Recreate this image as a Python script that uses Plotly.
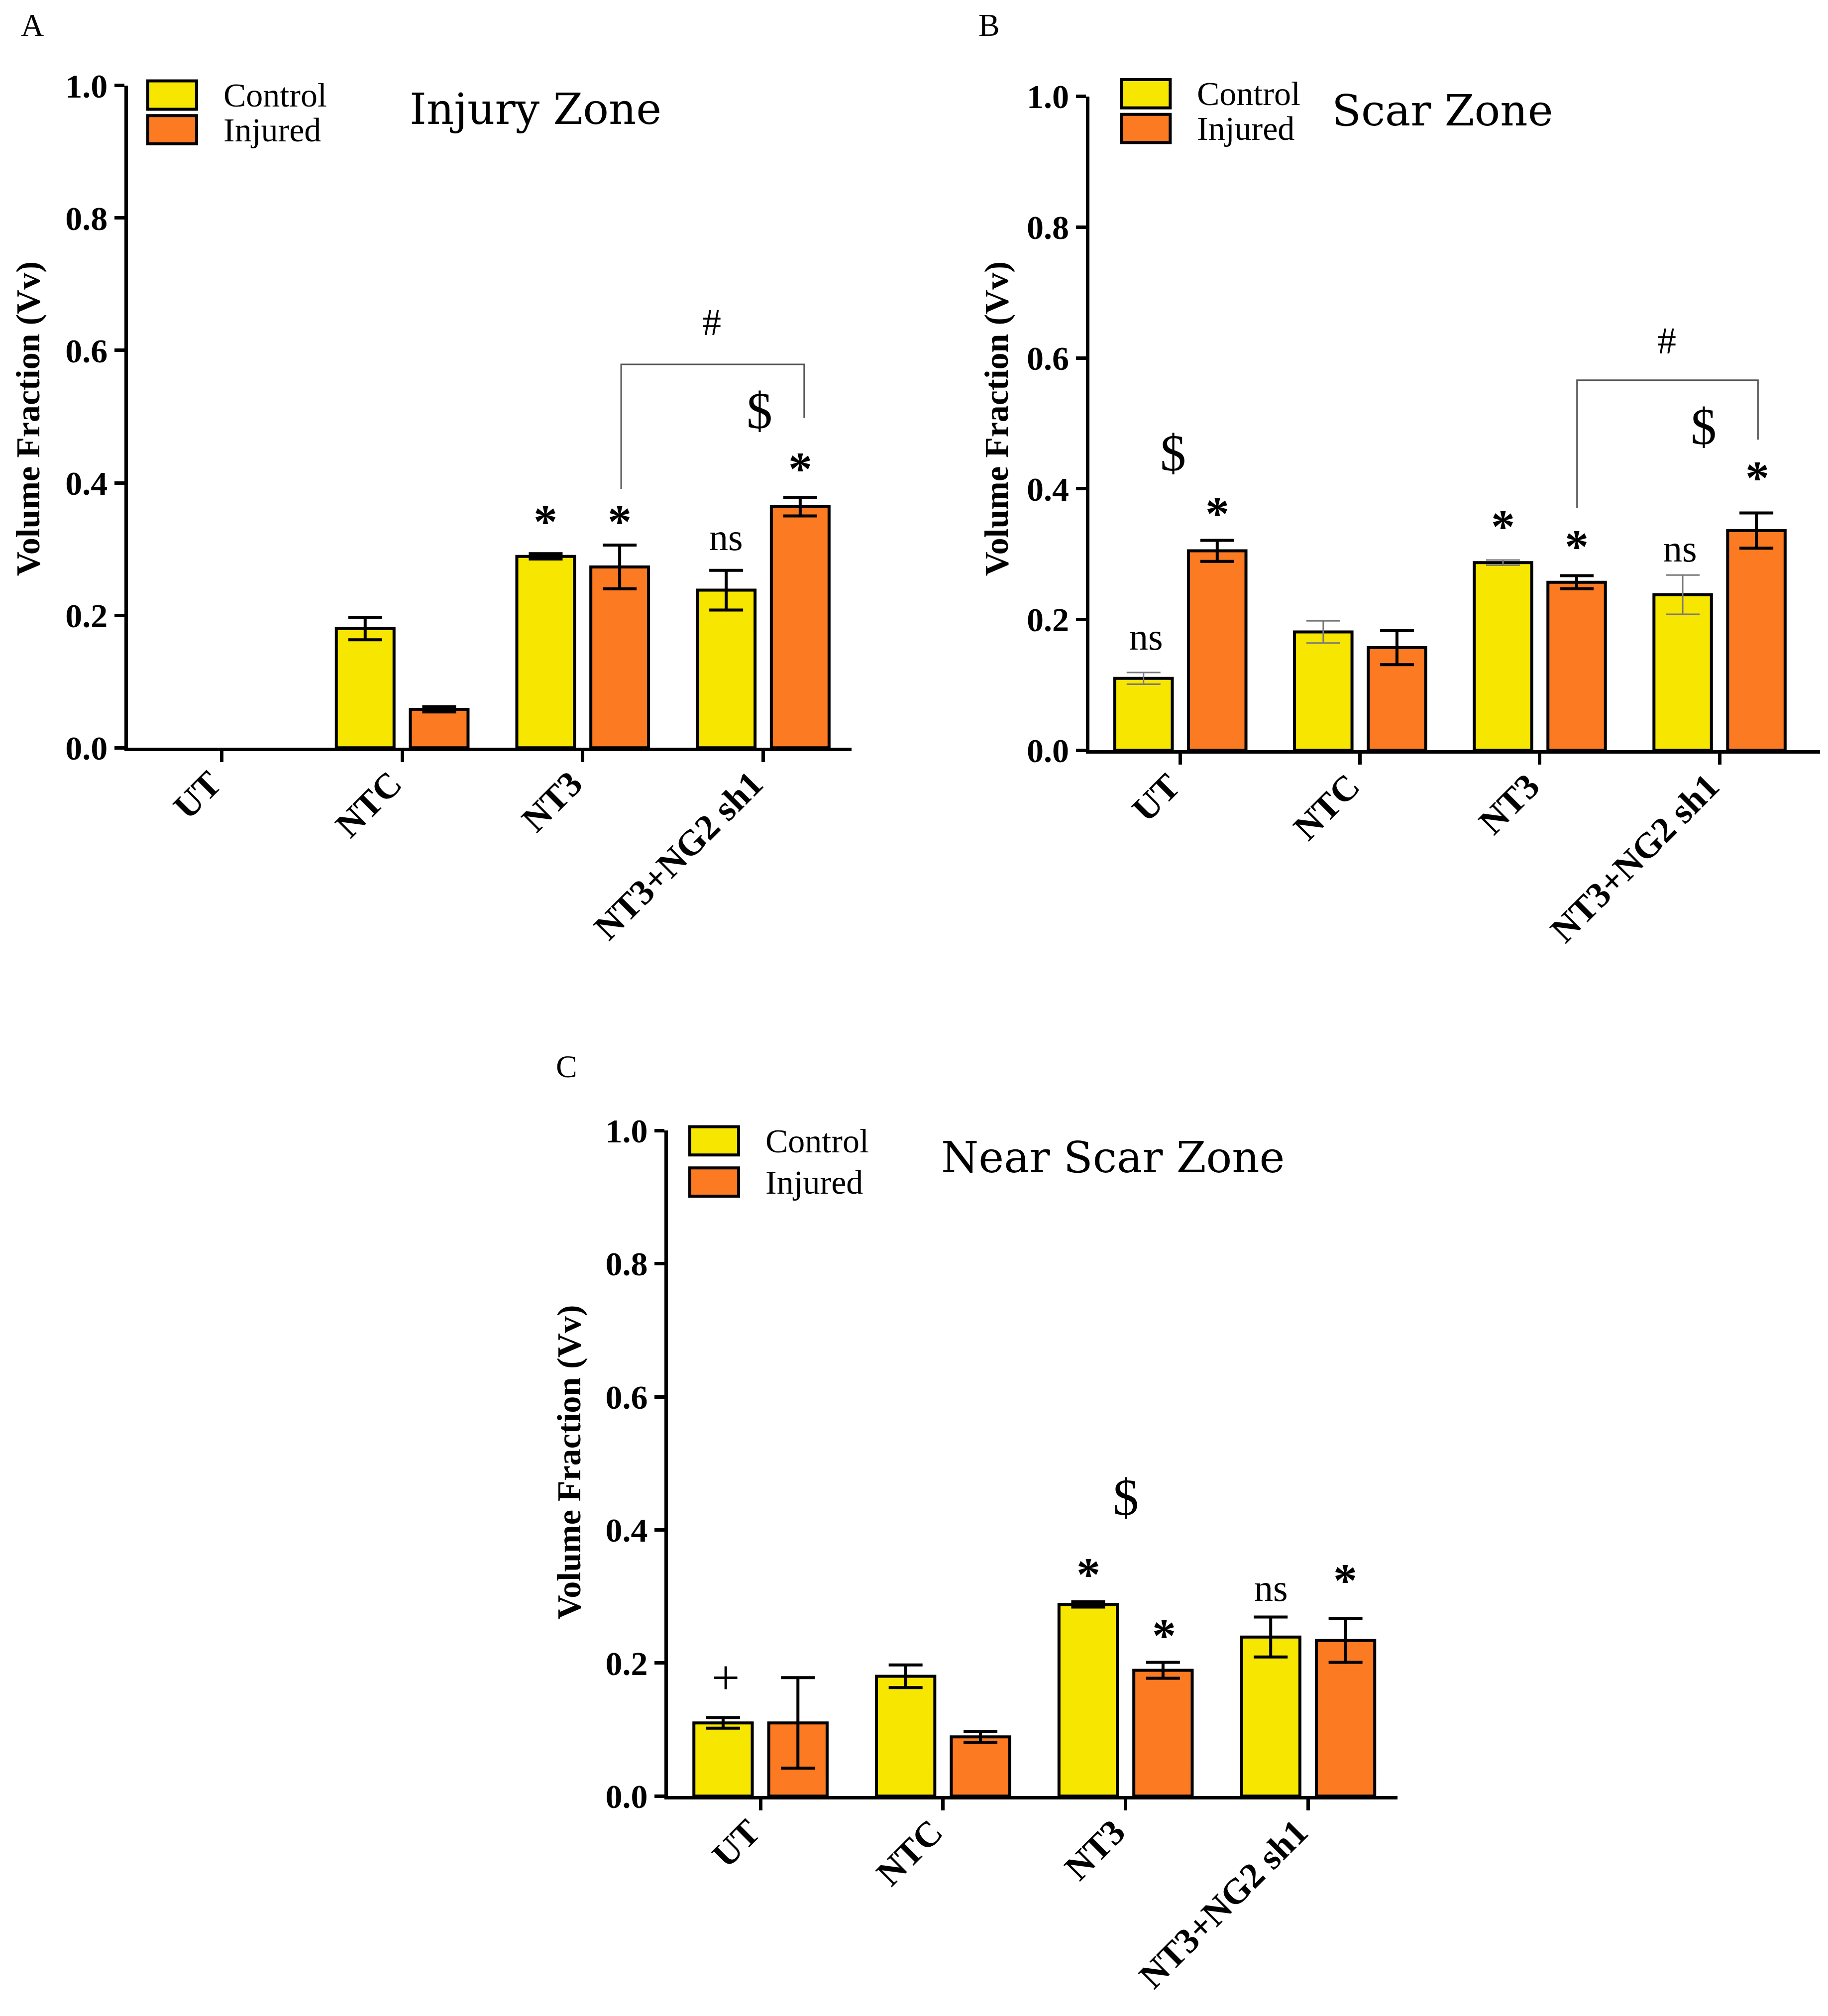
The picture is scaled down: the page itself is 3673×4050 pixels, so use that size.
import plotly.graph_objects as go

# ---- data ----
groups = ["UT", "NTC", "NT3", "NT3+NG2 sh1"]

# panel A - injury zone (no UT bars in the original)
a_control = [None, 0.180, 0.289, 0.238]
a_control_err = [None, 0.017, 0.004, 0.030]
a_injured = [None, 0.058, 0.273, 0.364]
a_injured_err = [None, 0.004, 0.033, 0.014]

# panel B - scar zone
b_control = [0.110, 0.181, 0.287, 0.238]
b_control_err = [0.009, 0.017, 0.004, 0.030]
b_injured = [0.305, 0.157, 0.257, 0.336]
b_injured_err = [0.016, 0.026, 0.010, 0.027]

# panel C - near scar zone
c_control = [0.110, 0.180, 0.288, 0.239]
c_control_err = [0.008, 0.017, 0.004, 0.030]
c_injured = [0.110, 0.089, 0.189, 0.234]
c_injured_err = [0.068, 0.008, 0.012, 0.033]

YELLOW = "#F7E700"
ORANGE = "#FC7A21"
FONT = "Liberation Serif"
TITLE_FONT = "DejaVu Serif"

S = 2.581  # reference preview px -> page px
W, H = 3673, 4050
PAGE_OFF = 8  # default body margin of the html page


def px(x):
    return (x * S - PAGE_OFF) / W


def py(y):
    return 1 - (y * S - PAGE_OFF) / H


fig = go.Figure()

panels = [
    # axis suffix, x domain, y domain, x range, data, thin control errors
    ("", (99.5, 663), (582, 66.6), [-0.52, 3.49],
     (a_control, a_control_err, a_injured, a_injured_err), False),
    ("2", (848, 1417), (584, 75), [-0.507, 3.56],
     (b_control, b_control_err, b_injured, b_injured_err), True),
    ("3", (520, 1088), (1398, 880), [-0.507, 3.49],
     (c_control, c_control_err, c_injured, c_injured_err), False),
]

xs = list(range(len(groups)))

for sfx, xd, yd, xr, vals, thin in panels:
    ctrl, ctrl_err, inj, inj_err = vals
    fig.add_trace(go.Bar(
        x=xs, y=ctrl, name="Control", offsetgroup="c", xaxis="x" + sfx, yaxis="y" + sfx,
        marker=dict(color=YELLOW, line=dict(color="black", width=6)),
        error_y=dict(type="data", array=ctrl_err, visible=True,
                     color="#7a7a7a" if thin else "black",
                     thickness=3 if thin else 6, width=34),
        showlegend=False))
    fig.add_trace(go.Bar(
        x=xs, y=inj, name="Injured", offsetgroup="i", xaxis="x" + sfx, yaxis="y" + sfx,
        marker=dict(color=ORANGE, line=dict(color="black", width=6)),
        error_y=dict(type="data", array=inj_err, visible=True,
                     color="black", thickness=6, width=34),
        showlegend=False))

    xa = dict(domain=[px(xd[0]), px(xd[1])], range=xr, anchor="y" + sfx,
              tickmode="array", tickvals=xs, ticktext=groups, tickangle=-45,
              showline=True, linecolor="black", linewidth=7,
              ticks="outside", ticklen=22, tickwidth=7, tickcolor="black",
              ticklabelstandoff=-28, ticklabelshift=-22,
              showgrid=False, zeroline=False, automargin=False,
              tickfont=dict(family=FONT, size=72, color="black", weight="bold"))
    ya = dict(domain=[py(yd[0]), py(yd[1])], range=[0, 1.0], anchor="x" + sfx,
              tickmode="array", tickvals=[0, 0.2, 0.4, 0.6, 0.8, 1.0],
              ticktext=["0.0", "0.2", "0.4", "0.6", "0.8", "1.0"],
              showline=True, linecolor="black", linewidth=7,
              ticks="outside", ticklen=20, tickwidth=7, tickcolor="black",
              showgrid=False, zeroline=False, automargin=False,
              tickfont=dict(family=FONT, size=68, color="black", weight="bold"))
    fig.update_layout({"xaxis" + sfx: xa, "yaxis" + sfx: ya})

shapes = []
annotations = []


def note(text, x, y, size, xref, yref, family=FONT, **kw):
    annotations.append(dict(text=text, x=x, y=y, xref=xref, yref=yref,
                            showarrow=False, font=dict(family=family, size=size, color="black"),
                            **kw))


# panel letters, axis titles, zone titles and hand-made legends
for letter, lx, ly in [("A", 25, 19.5), ("B", 770, 19.5), ("C", 441, 830)]:
    note(letter, px(lx), py(ly), 64, "paper", "paper", xanchor="center", yanchor="middle")

for tx, ty in [(22, 326), (776, 326), (443, 1138)]:
    note("<b>Volume Fraction (Vv)</b>", px(tx), py(ty), 68, "paper", "paper",
         textangle=-90, xanchor="center", yanchor="middle")

for title, tx, ty in [("Injury Zone", 318, 85), ("Scar Zone", 1036, 86), ("Near Scar Zone", 732, 901)]:
    note(title, px(tx), py(ty), 86, "paper", "paper", family=TITLE_FONT,
         xanchor="left", yanchor="middle")

for lx, ly1, ly2 in [(115, 63, 90), (873, 62, 89), (537, 877, 909)]:
    for y0, col, lab in [(ly1, YELLOW, "Control"), (ly2, ORANGE, "Injured")]:
        shapes.append(dict(type="rect", xref="paper", yref="paper",
                           x0=px(lx), x1=px(lx + 38), y0=py(y0), y1=py(y0 + 22),
                           fillcolor=col, line=dict(color="black", width=6)))
        note(lab, px(lx + 58), py(y0 + 11), 68, "paper", "paper",
             xanchor="left", yanchor="middle")

# significance marks: (axis suffix, x, y, text, size, bold)
marks = [
    ("", 1.795, 0.300, "*", 96, True),
    ("", 2.205, 0.300, "*", 96, True),
    ("", 2.795, 0.285, "ns", 76, False),
    ("", 3.205, 0.380, "*", 96, True),
    ("", 2.98, 0.465, "$", 104, False),
    ("", 2.716, 0.610, "#", 76, False),
    ("2", -0.19, 0.140, "ns", 76, False),
    ("2", 0.205, 0.320, "*", 96, True),
    ("2", -0.04, 0.410, "$", 104, False),
    ("2", 1.795, 0.300, "*", 96, True),
    ("2", 2.205, 0.270, "*", 96, True),
    ("2", 2.78, 0.275, "ns", 76, False),
    ("2", 3.21, 0.375, "*", 96, True),
    ("2", 2.91, 0.450, "$", 104, False),
    ("2", 2.707, 0.593, "#", 76, False),
    ("3", -0.19, 0.135, "+", 100, False),
    ("3", 1.796, 0.292, "*", 96, True),
    ("3", 2.211, 0.200, "*", 96, True),
    ("3", 2.0, 0.405, "$", 104, False),
    ("3", 2.796, 0.280, "ns", 76, False),
    ("3", 3.204, 0.283, "*", 96, True),
]
for sfx, x, y, text, size, bold in marks:
    note("<b>%s</b>" % text if bold else text, x, y, size, "x" + sfx, "y" + sfx,
         xanchor="center", yanchor="bottom")

# comparison brackets: (axis suffix, x left, x right, y top, y left end, y right end)
brackets = [
    ("", 2.213, 3.227, 0.579, 0.391, 0.498),
    ("2", 2.207, 3.214, 0.566, 0.371, 0.475),
]
for sfx, x0, x1, yt, yl, yr in brackets:
    path = "M %f,%f L %f,%f L %f,%f L %f,%f" % (x0, yl, x0, yt, x1, yt, x1, yr)
    shapes.append(dict(type="path", path=path, xref="x" + sfx, yref="y" + sfx,
                       line=dict(color="#555555", width=3)))

fig.update_layout(
    width=W, height=H, margin=dict(l=0, r=0, t=0, b=0, autoexpand=False),
    paper_bgcolor="white", plot_bgcolor="white",
    barmode="group", bargap=0.18, bargroupgap=0.22,
    shapes=shapes, annotations=annotations, showlegend=False,
)

fig.write_html("out.html")
